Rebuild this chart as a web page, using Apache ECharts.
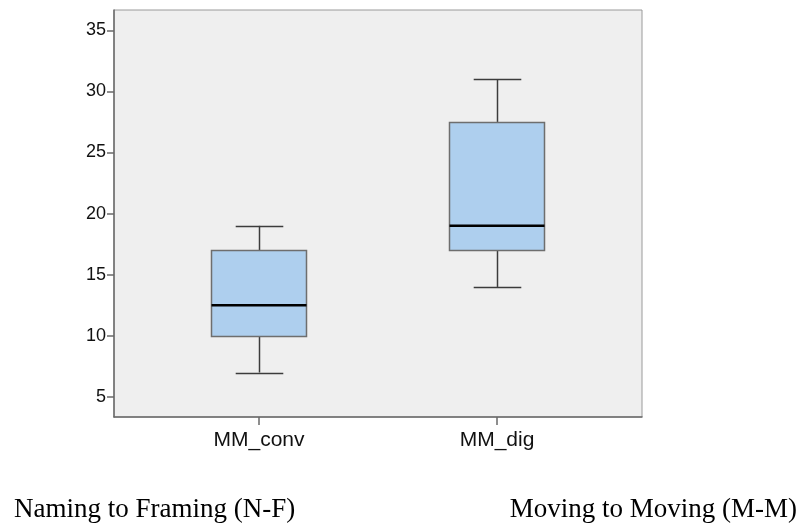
<!DOCTYPE html>
<html><head><meta charset="utf-8">
<script src="https://cdn.jsdelivr.net/npm/echarts@6/dist/echarts.min.js"></script>
<style>html,body{margin:0;padding:0;background:#fff}#c{width:800px;height:527px}</style>
</head><body><div id="c"></div>
<script>
// ---- data ----
const categories = ['MM_conv', 'MM_dig'];
const whiskerLow = [7, 14];
const quartile1 = [10, 17];
const medians = [12.5, 19];
const quartile3 = [17, 27.5];
const whiskerHigh = [19, 31];
const yTicks = [5, 10, 15, 20, 25, 30, 35];
const captions = ['Naming to Framing (N-F)', 'Moving to Moving (M-M)'];
const yMin = 3.36, yMax = 36.66;

const seriesData = categories.map((c, i) => [i, whiskerLow[i], quartile1[i], medians[i], quartile3[i], whiskerHigh[i]]);

function crisp(v) { return Math.round(v) + 0.5; }

function renderItem(params, api) {
  const i = api.value(0);
  const band = api.size([1, 0])[0];
  const bw = band * 0.4, cw = band * 0.2;
  const lo = api.coord([i, api.value(1)]);
  const q1 = api.coord([i, api.value(2)]);
  const md = api.coord([i, api.value(3)]);
  const q3 = api.coord([i, api.value(4)]);
  const hi = api.coord([i, api.value(5)]);
  const x = crisp(md[0]);
  const whiskerStyle = { stroke: '#3c3c3c', lineWidth: 1.5 };
  return {
    type: 'group',
    children: [
      { type: 'line', shape: { x1: x, y1: hi[1], x2: x, y2: q3[1] }, style: whiskerStyle },
      { type: 'line', shape: { x1: x, y1: q1[1], x2: x, y2: lo[1] }, style: whiskerStyle },
      { type: 'line', shape: { x1: x - cw / 2, y1: crisp(hi[1]), x2: x + cw / 2, y2: crisp(hi[1]) }, style: whiskerStyle },
      { type: 'line', shape: { x1: x - cw / 2, y1: crisp(lo[1]), x2: x + cw / 2, y2: crisp(lo[1]) }, style: whiskerStyle },
      { type: 'rect', shape: { x: Math.round(md[0] - bw / 2) + 0.5, y: Math.round(q3[1]) + 0.5, width: Math.round(bw), height: Math.round(q1[1] - q3[1]) },
        style: { fill: '#aecfee', stroke: '#6e6e6e', lineWidth: 1.5 } },
      { type: 'line', shape: { x1: Math.round(md[0] - bw / 2) + 0.5, y1: md[1], x2: Math.round(md[0] - bw / 2) + 0.5 + Math.round(bw), y2: md[1] },
        style: { stroke: '#000', lineWidth: 2.5 } }
    ]
  };
}

const chart = echarts.init(document.getElementById('c'), null, { renderer: 'canvas' });
chart.setOption({
  animation: false,
  backgroundColor: '#fff',
  title: [
    { text: captions[0], left: 14, top: 496, padding: 0,
      textStyle: { fontFamily: 'Liberation Serif', fontSize: 27, fontWeight: 'normal', color: '#000' } },
    { text: captions[1], right: 3, top: 496, padding: 0,
      textStyle: { fontFamily: 'Liberation Serif', fontSize: 27, fontWeight: 'normal', color: '#000' } }
  ],
  grid: [
    { left: 114, top: 10, width: 528, height: 407, show: true, backgroundColor: '#efefef', borderColor: '#9a9a9a', borderWidth: 1 },
    { left: 140, top: 10, width: 476, height: 407 }
  ],
  xAxis: [
    { type: 'value', gridIndex: 0, min: 0, max: 1,
      axisLine: { show: true, lineStyle: { color: '#6a6a6a', width: 1.5 } },
      axisTick: { show: false }, axisLabel: { show: false }, splitLine: { show: false } },
    { type: 'category', gridIndex: 1, data: categories, boundaryGap: true,
      axisLine: { show: false },
      axisTick: { show: true, alignWithLabel: true, length: 8, lineStyle: { color: '#6a6a6a', width: 1.5 } },
      axisLabel: { fontFamily: 'Liberation Sans', fontSize: 21, color: '#111', margin: 13 },
      splitLine: { show: false } }
  ],
  yAxis: [
    { type: 'value', gridIndex: 0, min: yMin, max: yMax,
      axisLine: { show: true, lineStyle: { color: '#6a6a6a', width: 1.5 } },
      axisTick: { show: true, length: 7, customValues: yTicks, lineStyle: { color: '#6a6a6a', width: 1.5 } },
      axisLabel: { customValues: yTicks, fontFamily: 'Liberation Sans', fontSize: 18, color: '#111', margin: 8 },
      splitLine: { show: false } },
    { type: 'value', gridIndex: 1, min: yMin, max: yMax, show: false, splitLine: { show: false } }
  ],
  series: [{
    type: 'custom',
    xAxisIndex: 1, yAxisIndex: 1,
    renderItem: renderItem,
    encode: { x: 0, y: [1, 2, 3, 4, 5] },
    data: seriesData
  }]
});
</script>
</body></html>
